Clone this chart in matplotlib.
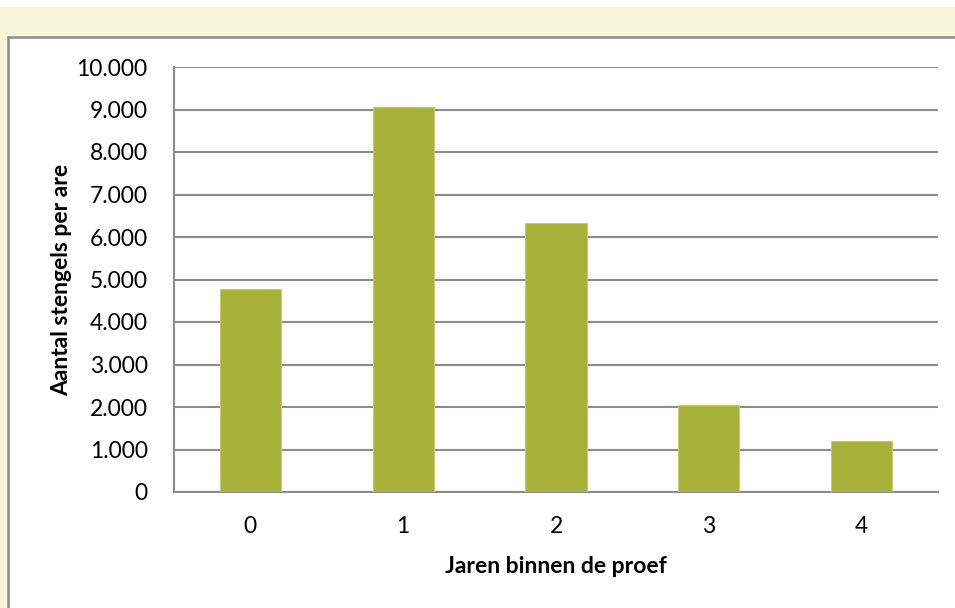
import matplotlib.pyplot as plt
from matplotlib.patches import Rectangle
from matplotlib.ticker import FuncFormatter

# Gegevens
jaren = [0, 1, 2, 3, 4]
stengels = [4780, 9060, 6320, 2055, 1200]
y_ticks = [0, 1000, 2000, 3000, 4000, 5000, 6000, 7000, 8000, 9000, 10000]

plt.rcParams['font.family'] = ['Lato', 'DejaVu Sans']

fig = plt.figure(figsize=(9.55, 6.08), dpi=100, facecolor='white')

# achtergrond: gele band en wit paneel met grijze rand
fig.patches.append(Rectangle((0, 0), 1, 1 - 7 / 608, transform=fig.transFigure,
                             facecolor='#f7f7dc', edgecolor='none', zorder=-3))
fig.patches.append(Rectangle((7.5 / 955, -0.1), 1.2, 1.1 - 37.5 / 608, transform=fig.transFigure,
                             facecolor='white', edgecolor='#8c8c8c', linewidth=1.8, zorder=-2))

ax = fig.add_axes([174 / 955, 116 / 608, 764 / 955, 425 / 608])
ax.set_facecolor('none')
ax.bar(jaren, stengels, width=0.4, color='#a8b23a', edgecolor='#c4cc6e', linewidth=0.8, zorder=3)

ax.set_xlim(-0.5, 4.5)
ax.set_ylim(0, 10000)
ax.set_yticks(y_ticks)
ax.yaxis.set_major_formatter(FuncFormatter(lambda v, p: f'{int(v):,}'.replace(',', '.')))
ax.set_xticks(jaren)
ax.grid(axis='y', color='#8c8c8c', linewidth=1.5, zorder=0)
ax.tick_params(axis='both', length=0, labelsize=16.5, colors='black')
ax.tick_params(axis='y', pad=19)
ax.tick_params(axis='x', pad=17)

for side in ['top', 'right']:
    ax.spines[side].set_visible(False)
for side in ['left', 'bottom']:
    ax.spines[side].set_color('#8c8c8c')
    ax.spines[side].set_linewidth(1.5)

ax.set_xlabel('Jaren binnen de proef', fontsize=16.5, fontweight='bold', labelpad=14)
ax.set_ylabel('Aantal stengels per are', fontsize=16.5, fontweight='bold', labelpad=3)

fig.savefig('out.png', dpi=100, facecolor=fig.get_facecolor())
